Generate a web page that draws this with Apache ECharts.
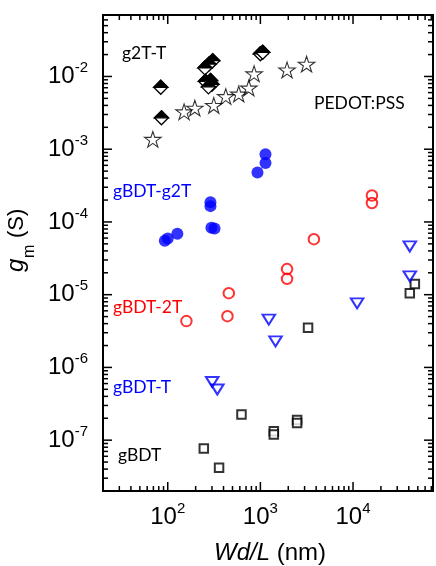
<!DOCTYPE html>
<html>
<head>
<meta charset="utf-8">
<script src="https://cdn.jsdelivr.net/npm/echarts@6/dist/echarts.min.js"></script>
<style>
  html, body { margin: 0; padding: 0; background: #fff; }
  #chart { width: 436px; height: 566px; }
</style>
</head>
<body>
<div id="chart"></div>
<script>
// Axis ranges (log-log) and the decades that carry labels
const xRange = [20, 73000];
const yRange = [2e-8, 0.07];
const xDecades = [1e2, 1e3, 1e4];
const yDecades = [1e-7, 1e-6, 1e-5, 1e-4, 1e-3, 1e-2];

// g2T-T (half-filled diamonds)
const g2tTX = [84, 85.5, 306, 278, 252, 255, 290, 300, 275, 1000, 1060];
const g2tTY = [7.1e-3, 2.7e-3, 1.65e-2, 1.48e-2, 1.31e-2, 8.6e-3, 8.8e-3, 7.8e-3, 7.2e-3, 2.05e-2, 2.15e-2];

// PEDOT:PSS (open stars)
const pedotX = [69, 150, 196, 314, 423, 584, 750, 855, 1940, 3150];
const pedotY = [1.37e-3, 3.27e-3, 3.68e-3, 4.0e-3, 5.3e-3, 5.75e-3, 6.95e-3, 1.09e-2, 1.23e-2, 1.48e-2];

// gBDT-g2T (filled blue circles)
const bg2tX = [93, 100, 127, 289, 289, 296, 320, 930, 1135, 1135];
const bg2tY = [5.5e-5, 5.9e-5, 6.9e-5, 1.86e-4, 1.65e-4, 8.3e-5, 8.1e-5, 4.8e-4, 8.55e-4, 6.44e-4];

// gBDT-2T (open red circles)
const b2tX = [159, 441, 456, 1940, 1940, 3780, 16000, 16000];
const b2tY = [4.33e-6, 5.06e-6, 1.05e-5, 2.25e-5, 1.65e-5, 5.8e-5, 2.31e-4, 1.82e-4];

// gBDT-T (open blue down-triangles)
const btX = [302, 343, 1233, 1456, 11070, 41000, 41000];
const btY = [6.3e-7, 4.97e-7, 4.55e-6, 2.28e-6, 7.6e-6, 4.6e-5, 1.78e-5];

// gBDT (open black squares)
const bX = [245, 358, 625, 1396, 1396, 2490, 2490, 3270, 41000, 46500];
const bY = [7.66e-8, 4.18e-8, 2.25e-7, 1.33e-7, 1.2e-7, 1.9e-7, 1.72e-7, 3.5e-6, 1.05e-5, 1.4e-5];

const BLUE = '#0000ff';
const RED = '#ff0000';
const NUM_FONT = 'Liberation Sans';
const NOTE_FONT = 'Lato';
const NOTE_SIZE = 17.5;

const pairs = (xs, ys) => xs.map((x, i) => [x, ys[i]]);

// Major ticks at each decade, minor ticks at 2..9 times the decade
function logTicks(range) {
  const out = [];
  const lo = Math.floor(Math.log10(range[0]));
  const hi = Math.ceil(Math.log10(range[1]));
  for (let e = lo; e <= hi; e++) {
    for (let m = 1; m <= 9; m++) {
      const v = m * Math.pow(10, e);
      if (v > range[0] * 1.0001 && v < range[1] * 0.9999) out.push({ v: v, major: m === 1 });
    }
  }
  return out;
}
const xTicks = logTicks(xRange);
const yTicks = logTicks(yRange);

const powerLabel = {
  formatter: function (v) {
    const l = Math.log10(v);
    const e = Math.round(l);
    if (Math.abs(l - e) > 1e-6) return '';
    return '{b|10}{s|' + e + '}';
  },
  rich: {
    b: { fontFamily: NUM_FONT, fontSize: 24, color: '#000', lineHeight: 32 },
    s: { fontFamily: NUM_FONT, fontSize: 15, color: '#000', lineHeight: 16, verticalAlign: 'top' }
  }
};

const starPath = 'path://M50,0L61.2,34.5L97.6,34.5L68.2,55.9L79.4,90.5L50,69.1L20.6,90.5L31.8,55.9L2.4,34.5L38.8,34.5Z';

function note(text, x, y, color) {
  return {
    type: 'text', x: x, y: y,
    style: { text: text, fill: color, fontFamily: NOTE_FONT, fontSize: NOTE_SIZE, verticalAlign: 'middle' }
  };
}

const chart = echarts.init(document.getElementById('chart'));

const option = {
  animation: false,
  backgroundColor: '#fff',
  grid: {
    left: 103, right: 3, top: 15, bottom: 75,
    show: true, borderColor: '#000', borderWidth: 2,
    containLabel: false, outerBoundsMode: 'none'
  },
  xAxis: {
    type: 'log', logBase: 10, min: xRange[0], max: xRange[1],
    axisLine: { show: false }, axisTick: { show: false }, splitLine: { show: false },
    axisLabel: Object.assign({ margin: 10, showMinLabel: false, showMaxLabel: false }, powerLabel)
  },
  yAxis: {
    type: 'log', logBase: 10, min: yRange[0], max: yRange[1],
    axisLine: { show: false }, axisTick: { show: false }, splitLine: { show: false },
    axisLabel: Object.assign({ margin: 15, showMinLabel: false, showMaxLabel: false }, powerLabel)
  },
  series: [
    {
      // inward ticks on all four sides of the frame
      type: 'custom', silent: true, z: 5,
      data: [[xRange[0], yRange[0]]],
      renderItem: function (params, api) {
        const cs = params.coordSys;
        const left = cs.x, top = cs.y, right = cs.x + cs.width, bottom = cs.y + cs.height;
        const kids = [];
        const seg = (a, b, c, d) => kids.push({
          type: 'line', shape: { x1: a, y1: b, x2: c, y2: d },
          style: { stroke: '#000', lineWidth: 1.5 }
        });
        xTicks.forEach(t => {
          const px = api.coord([t.v, yRange[0]])[0];
          const len = t.major ? 9 : 5;
          seg(px, bottom, px, bottom - len);
          seg(px, top, px, top + len);
        });
        yTicks.forEach(t => {
          const py = api.coord([xRange[0], t.v])[1];
          const len = t.major ? 9 : 5;
          seg(left, py, left + len, py);
          seg(right, py, right - len, py);
        });
        return { type: 'group', children: kids };
      }
    },
    {
      name: 'gBDT', type: 'scatter', data: pairs(bX, bY),
      symbol: 'rect', symbolSize: 8.5,
      itemStyle: { color: '#fff', borderColor: '#000', borderWidth: 2 }
    },
    {
      name: 'gBDT-T', type: 'scatter', data: pairs(btX, btY),
      symbol: 'triangle', symbolRotate: 180, symbolSize: [12.5, 10],
      itemStyle: { color: 'rgba(255,255,255,0)', borderColor: BLUE, borderWidth: 2 }
    },
    {
      name: 'gBDT-2T', type: 'scatter', data: pairs(b2tX, b2tY),
      symbol: 'circle', symbolSize: 10.5,
      itemStyle: { color: 'rgba(255,255,255,0)', borderColor: RED, borderWidth: 2 }
    },
    {
      name: 'gBDT-g2T', type: 'scatter', data: pairs(bg2tX, bg2tY),
      symbol: 'circle', symbolSize: 12,
      itemStyle: { color: BLUE }
    },
    {
      name: 'PEDOT:PSS', type: 'scatter', data: pairs(pedotX, pedotY),
      symbol: starPath, symbolKeepAspect: true, symbolSize: 16.5,
      itemStyle: { color: 'rgba(255,255,255,0)', borderColor: '#000', borderWidth: 1.1 }
    },
    {
      name: 'g2T-T', type: 'custom', data: pairs(g2tTX, g2tTY), z: 4,
      renderItem: function (params, api) {
        const p = api.coord([api.value(0), api.value(1)]);
        const w = 7, h = 7;
        return {
          type: 'group',
          children: [
            { type: 'polygon', shape: { points: [[p[0], p[1] - h], [p[0] + w, p[1]], [p[0], p[1] + h], [p[0] - w, p[1]]] },
              style: { fill: '#fff', stroke: '#000', lineWidth: 1.3 } },
            { type: 'polygon', shape: { points: [[p[0], p[1] - h], [p[0] + w, p[1]], [p[0] - w, p[1]]] },
              style: { fill: '#000', stroke: '#000', lineWidth: 1.3 } }
          ]
        };
      }
    }
  ],
  graphic: [
    note('g2T-T', 122, 53.5, '#000'),
    note('PEDOT:PSS', 314, 103.5, '#000'),
    note('gBDT-g2T', 113, 191, BLUE),
    note('gBDT-2T', 113, 307.5, RED),
    note('gBDT-T', 113, 387, BLUE),
    note('gBDT', 118, 455.5, '#000'),
    // x-axis title: Wd/L (nm)
    {
      type: 'text', x: 270, y: 553,
      style: {
        text: '{i|Wd/L} (nm)', align: 'center', verticalAlign: 'middle',
        fontFamily: NUM_FONT, fontSize: 24, fill: '#000',
        rich: { i: { fontFamily: NUM_FONT, fontSize: 24, fontStyle: 'italic', fill: '#000' } }
      }
    },
    // y-axis title: g_m (S), reading bottom to top
    {
      type: 'group', x: 28, y: 272, rotation: Math.PI / 2,
      children: [
        { type: 'text', x: 0, y: 0, style: { text: 'g', fontFamily: NUM_FONT, fontSize: 24, fontStyle: 'italic', fill: '#000', verticalAlign: 'bottom' } },
        { type: 'text', x: 14, y: 10, style: { text: 'm', fontFamily: NUM_FONT, fontSize: 16, fontStyle: 'normal', fill: '#000', verticalAlign: 'bottom' } },
        { type: 'text', x: 34, y: 0, style: { text: '(S)', fontFamily: NUM_FONT, fontSize: 22, fontStyle: 'normal', fill: '#000', verticalAlign: 'bottom' } }
      ]
    }
  ]
};

chart.setOption(option);
</script>
</body>
</html>
